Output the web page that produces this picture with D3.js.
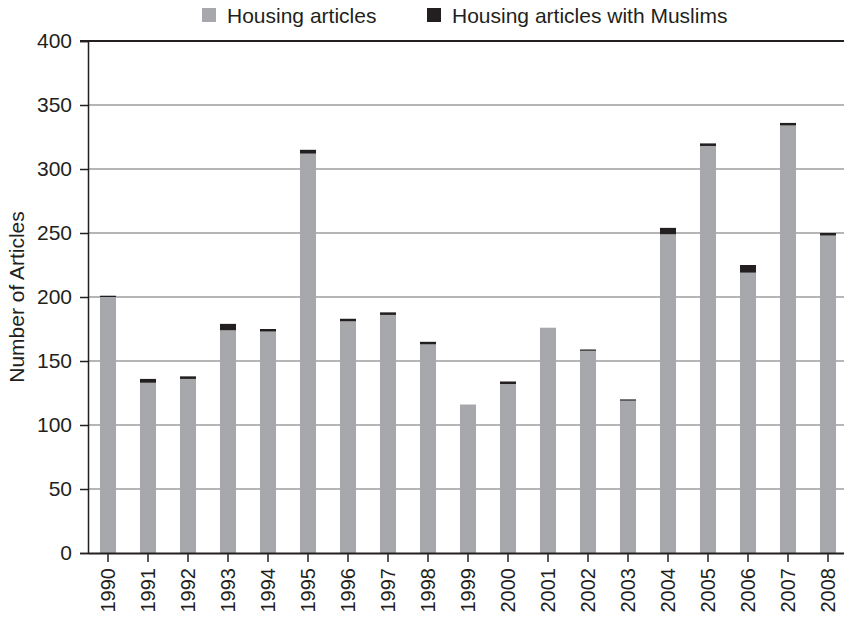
<!DOCTYPE html>
<html>
<head>
<meta charset="utf-8">
<script src="https://cdn.jsdelivr.net/npm/d3@7"></script>
<style>
  body { margin: 0; background: #fff; }
  svg { display: block; font-family: "Liberation Sans", Arial, sans-serif; }
</style>
</head>
<body>
<svg id="chart" width="844" height="618"></svg>
<script>
// données
var years = ["1990","1991","1992","1993","1994","1995","1996","1997","1998","1999",
             "2000","2001","2002","2003","2004","2005","2006","2007","2008"];
var housing = [200,133,136,174,173,312,181,186,163,116,132,176,158,119,249,318,219,334,248];
var muslims = [1,3,2,5,2,3,2,2,2,0,2,0,1,1,5,2,6,2,2];
var yTicks = [0,50,100,150,200,250,300,350,400];
var seriesNames = ["Housing articles", "Housing articles with Muslims"];
var colors = ["#a7a8ab", "#231f20"];

var svg = d3.select("#chart");
var margin = {top: 41, right: -4, bottom: 65, left: 88},
    width = 844 - margin.left - margin.right,
    height = 618 - margin.top - margin.bottom;

var g = svg.append("g").attr("transform", `translate(${margin.left},${margin.top})`);

var xScale = d3.scaleBand().domain(years).range([0, width]).paddingInner(0.6).paddingOuter(0.3);
var yScale = d3.scaleLinear().domain([0, 400]).range([height, 0]);

// lignes de grille
g.selectAll(".grid")
  .data(yTicks.filter(d => d > 0 && d < 400))
  .enter().append("line")
  .attr("x1", 0).attr("x2", width)
  .attr("y1", d => yScale(d)).attr("y2", d => yScale(d))
  .attr("stroke", "#9c9c9c").attr("stroke-width", 1.5);

// barres empilées
var table = years.map((y, i) => ({year: y, housing: housing[i], muslims: muslims[i]}));
var stack = d3.stack().keys(["housing", "muslims"])(table);

g.selectAll(".serie")
  .data(stack)
  .enter().append("g")
  .attr("fill", (d, i) => colors[i])
  .selectAll("rect")
  .data(d => d)
  .enter().append("rect")
  .attr("x", d => xScale(d.data.year))
  .attr("width", xScale.bandwidth())
  .attr("y", d => yScale(d[1]))
  .attr("height", d => yScale(d[0]) - yScale(d[1]));

// ligne du haut
g.append("line")
  .attr("x1", -8).attr("x2", width)
  .attr("y1", yScale(400)).attr("y2", yScale(400))
  .attr("stroke", "#231f20").attr("stroke-width", 2);

// axe y
var yAxis = g.append("g")
  .call(d3.axisLeft(yScale).tickValues(yTicks).tickSize(8).tickPadding(8));
yAxis.select(".domain").attr("stroke", "#231f20").attr("stroke-width", 1.5);
yAxis.selectAll(".tick line").attr("stroke", "#231f20").attr("stroke-width", 1.5);
yAxis.selectAll("text").attr("font-size", 21).attr("fill", "#231f20")
  .attr("font-family", "'Liberation Sans', Arial, sans-serif");

// axe x
var xAxis = g.append("g")
  .attr("transform", `translate(0,${height})`)
  .call(d3.axisBottom(xScale).tickSize(9).tickSizeOuter(0));
xAxis.select(".domain").attr("stroke", "#231f20").attr("stroke-width", 2);
xAxis.selectAll(".tick line").attr("stroke", "#231f20").attr("stroke-width", 1.5);
xAxis.selectAll("text")
  .attr("font-size", 20).attr("fill", "#231f20")
  .attr("font-family", "'Liberation Sans', Arial, sans-serif")
  .attr("transform", "rotate(-90)")
  .attr("text-anchor", "end")
  .attr("x", -15).attr("y", 0).attr("dy", "0.35em");

// titre de l'axe y
svg.append("text")
  .attr("transform", `translate(24,${margin.top + height / 2}) rotate(-90)`)
  .attr("text-anchor", "middle")
  .attr("font-size", 21).attr("fill", "#231f20")
  .text("Number of Articles");

// légende
var legendX = [202, 427];
var legend = svg.selectAll(".legend")
  .data(seriesNames)
  .enter().append("g")
  .attr("transform", (d, i) => `translate(${legendX[i]},8)`);
legend.append("rect").attr("width", 14).attr("height", 14).attr("fill", (d, i) => colors[i]);
legend.append("text")
  .attr("x", 25).attr("y", 15)
  .attr("font-size", 21).attr("fill", "#231f20")
  .text(d => d);
</script>
</body>
</html>
